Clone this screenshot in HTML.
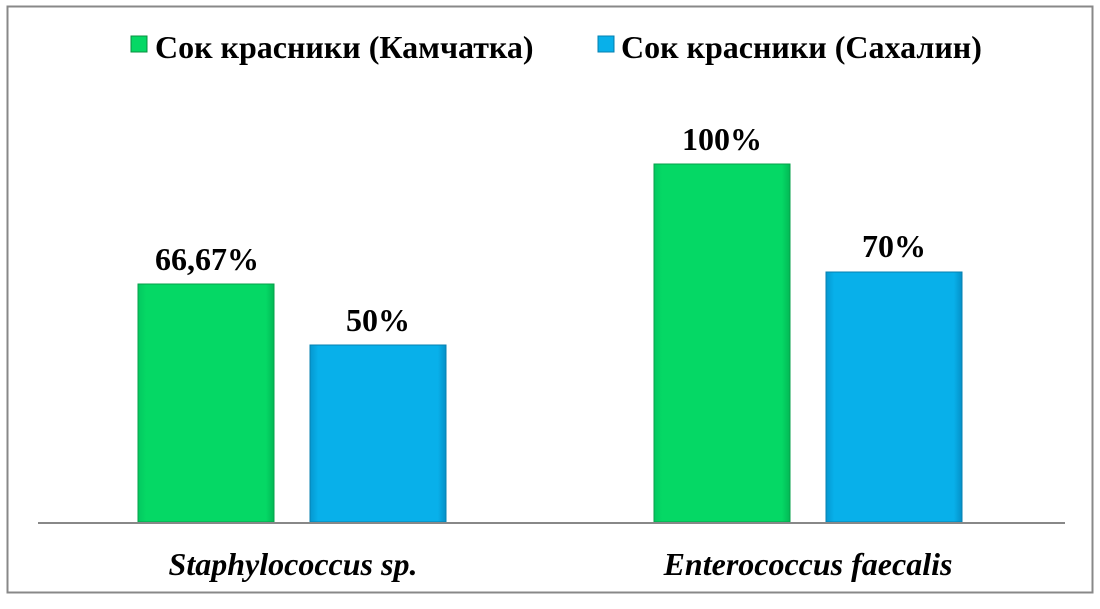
<!DOCTYPE html>
<html><head><meta charset="utf-8"><style>
body{margin:0;background:#fff;}
svg text{font-family:"Liberation Serif",serif;font-weight:bold;fill:#000;}
</style></head><body>
<svg width="1100" height="604" xmlns="http://www.w3.org/2000/svg">
<defs>
<linearGradient id="g" x1="0" x2="1"><stop offset="0" stop-color="#03c860"/><stop offset=".06" stop-color="#05d865"/><stop offset=".94" stop-color="#05d865"/><stop offset="1" stop-color="#03b855"/></linearGradient>
<linearGradient id="b" x1="0" x2="1"><stop offset="0" stop-color="#0598d0"/><stop offset=".06" stop-color="#08b0ea"/><stop offset=".94" stop-color="#08b0ea"/><stop offset="1" stop-color="#0590c8"/></linearGradient>
</defs>
<rect x="7.5" y="6.5" width="1085" height="586" fill="#fff" stroke="#888" stroke-width="2"/>
<rect x="131" y="36" width="16" height="16" fill="url(#g)" stroke="#0a9040"/>
<text x="155" y="58" font-size="32">Сок красники (Камчатка)</text>
<rect x="598" y="36" width="16" height="16" fill="url(#b)" stroke="#0680b0"/>
<text x="621" y="58" font-size="32">Сок красники (Сахалин)</text>
<rect x="138" y="284" width="136" height="238" fill="url(#g)" stroke="#06a04a"/>
<rect x="310" y="345" width="136" height="177" fill="url(#b)" stroke="#0680b0"/>
<rect x="654" y="164" width="136" height="358" fill="url(#g)" stroke="#06a04a"/>
<rect x="826" y="272" width="136" height="250" fill="url(#b)" stroke="#0680b0"/>
<line x1="38" y1="523" x2="1065" y2="523" stroke="#888" stroke-width="2"/>
<g font-size="32" text-anchor="middle">
<text x="207" y="270">66,67%</text>
<text x="378" y="331">50%</text>
<text x="722" y="150">100%</text>
<text x="894" y="257">70%</text>
<text x="293" y="575" font-style="italic">Staphylococcus sp.</text>
<text x="808" y="575" font-style="italic">Enterococcus faecalis</text>
</g>
</svg>
</body></html>
